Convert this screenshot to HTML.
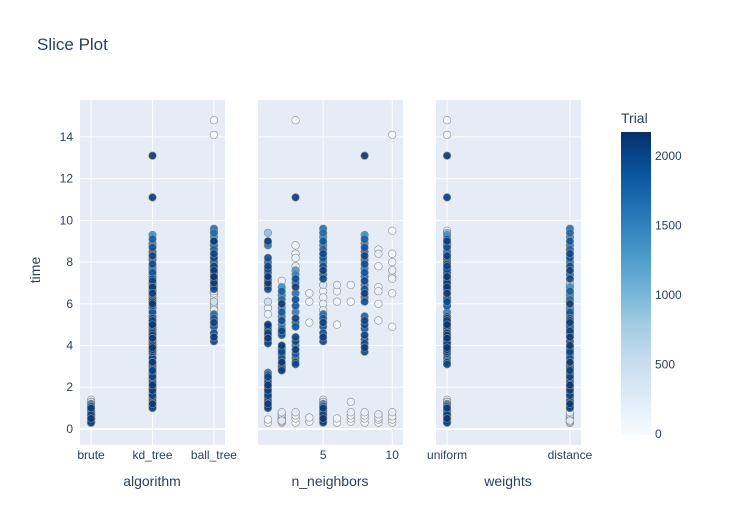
<!DOCTYPE html>
<html><head><meta charset="utf-8"><style>
body{margin:0;background:#fff;}
svg text{font-family:"Liberation Sans",Arial,sans-serif;fill:#2a3f5f;}
</style></head><body>
<svg id="chart" width="733" height="525" xmlns="http://www.w3.org/2000/svg">
<text x="37" y="50" font-size="17">Slice Plot</text>
<text transform="translate(40,270) rotate(-90)" text-anchor="middle" font-size="14">time</text>
<g id="panels"></g>
<text x="152" y="486" text-anchor="middle" font-size="14">algorithm</text>
<text x="330" y="486" text-anchor="middle" font-size="14">n_neighbors</text>
<text x="508" y="486" text-anchor="middle" font-size="14">weights</text>
<defs><linearGradient id="blues" x1="0" y1="1" x2="0" y2="0">
<stop offset="0" stop-color="rgb(247,251,255)"/><stop offset="0.125" stop-color="rgb(222,235,247)"/><stop offset="0.25" stop-color="rgb(198,219,239)"/><stop offset="0.375" stop-color="rgb(158,202,225)"/><stop offset="0.5" stop-color="rgb(107,174,214)"/><stop offset="0.625" stop-color="rgb(66,146,198)"/><stop offset="0.75" stop-color="rgb(33,113,181)"/><stop offset="0.875" stop-color="rgb(8,81,156)"/><stop offset="1" stop-color="rgb(8,48,107)"/>
</linearGradient></defs>
<text x="621" y="123" font-size="14">Trial</text>
<rect x="621" y="132" width="30" height="303" fill="url(#blues)"/>
<g id="cbticks"></g>
</svg>
<script>
// ---- data ----
const cbTicks = [0, 500, 1000, 1500, 2000];
const yTicks = [0, 2, 4, 6, 8, 10, 12, 14];
const algCategories = ["brute", "kd_tree", "ball_tree"];
const weightCategories = ["uniform", "distance"];
const nTicks = [5, 10];
const gA = {alg:"kd_tree", n:1, w:"distance"};
const gATimes = [1.0,1.1,1.2,1.35,1.5,1.6,1.7,1.85,2.0,2.1,2.25,2.4,2.5,2.6,2.7];
const gATrials = [2050,1980,2100,1900,1850,2000,1950,2080,1700,2120,1920,1880,2010,1800,1600];
const gB = {alg:"kd_tree", n:1, w:"uniform"};
const gBTimes = [4.1,4.2,4.35,4.5,4.6,4.75,4.9,5.0];
const gBTrials = [2000,1950,2100,1900,2050,1850,1980,2120];
const gC = {alg:"ball_tree", n:1, w:"uniform"};
const gCTimes = [6.7,6.85,7.0,7.15,7.3,7.5,7.65,7.8,8.0,8.2,8.8,8.95,9.0,9.4];
const gCTrials = [2000,1950,2080,1900,2120,1850,1980,2020,1700,1930,1600,1550,2060,900];
const gD = {alg:"ball_tree", n:1, w:"distance"};
const gDTimes = [5.5,5.8,6.1];
const gDTrials = [150,120,500];
const gD2 = {alg:"brute", n:1, w:"distance"};
const gD2Times = [0.3,0.45];
const gD2Trials = [60,90];
const gE = {alg:"kd_tree", n:2, w:"distance"};
const gETimes = [2.8,2.9,3.0,3.1,3.2,3.4,3.6,3.7,3.8,3.9,4.0,4.5,4.6,4.7,4.8,5.0,5.2,5.4,5.6,5.8,6.0,6.2,6.4,6.6,6.8,7.1];
const gETrials = [2050,1980,1900,1700,2100,1950,1850,2000,1650,1920,2080,1880,1600,2020,1750,1500,1960,1550,1850,1450,2100,1700,1500,1800,1400,200];
const gF = {alg:"kd_tree", n:3, w:"uniform"};
const gFTimes = [3.1,3.2,3.4,3.6,3.8,4.0,4.2,4.4,4.9,5.1,5.3,5.6,5.9,6.2,6.5,6.8,7.0,7.2,7.4,7.6,7.8,8.2,8.4,8.8,11.1];
const gFTrials = [2000,1950,1700,1850,2100,1600,1980,2050,1900,1750,2020,1550,1880,1950,1650,2080,1800,1920,1500,1300,300,150,100,80,2100];
const gG = {alg:"ball_tree", n:5, w:"distance"};
const gGTimes = [4.2,4.4,4.6,4.9,5.1,5.3,5.5,7.2,7.4,7.6,7.8,8.0,8.2,8.4,8.6,8.8,9.0,9.2,9.4,9.6,5.7,6.0,6.3,6.6,6.9];
const gGTrials = [2000,2100,1950,1900,2050,1850,1700,2000,1800,2080,1950,1650,1900,2020,1750,1600,1880,1500,1700,1650,250,180,120,90,400];
const gH = {alg:"brute", n:5, w:"uniform"};
const gHTimes = [0.3,0.4,0.5,0.6,0.7,0.8,0.9,1.0,1.1,1.2,1.3,1.4];
const gHTrials = [2050,1980,2100,1900,2000,1850,1950,2080,1700,1500,400,200];
const gI = {alg:"kd_tree", n:8, w:"uniform"};
const gITimes = [3.7,3.9,4.1,4.3,4.5,4.8,5.0,5.2,5.4,6.1,6.3,6.5,6.7,6.9,7.1,7.3,7.5,7.7,7.9,8.1,8.3,8.5,8.7,8.9,9.1,9.3,13.1];
const gITrials = [2000,2100,1950,1900,2050,1850,1980,2020,1800,1950,1700,2080,1900,1600,2000,1750,1880,1550,1950,1650,2050,1700,1900,1500,1800,1400,2150];
const gJ = {alg:"ball_tree", n:9, w:"distance"};
const gJTimes = [5.2,6.0,6.6,6.8,7.8,8.4,8.6];
const gJTrials = [100,60,140,90,40,200,120];
const gK = {alg:"ball_tree", n:10, w:"uniform"};
const gKTimes = [4.9,6.5,7.2,7.3,7.6,8.0,8.4,9.5,14.1];
const gKTrials = [30,70,110,50,150,90,20,10,5];
const gL = {alg:"ball_tree", n:3, w:"uniform"};
const gLTimes = [14.8];
const gLTrials = [3];
const gM = {alg:"ball_tree", n:4, w:"distance"};
const gMTimes = [5.1,6.1,6.5];
const gMTrials = [45,80,130];
const gN = {alg:"ball_tree", n:6, w:"distance"};
const gNTimes = [5.0,6.1,6.6,6.9];
const gNTrials = [25,65,95,160];
const gO = {alg:"ball_tree", n:7, w:"distance"};
const gOTimes = [6.1,6.9];
const gOTrials = [35,75];
const gP = {alg:"brute", n:2, w:"distance"};
const gPTimes = [0.3,0.45,0.6,0.8,0.35,0.5,0.7,0.4];
const gPTrials = [20,140,60,220,100,40,180,300];
const gQ = {alg:"brute", n:3, w:"uniform"};
const gQTimes = [0.3,0.5,0.65,0.8];
const gQTrials = [15,85,125,260];
const gR = {alg:"brute", n:4, w:"distance"};
const gRTimes = [0.35,0.55];
const gRTrials = [55,105];
const gS = {alg:"brute", n:6, w:"distance"};
const gSTimes = [0.3,0.5];
const gSTrials = [12,88];
const gT = {alg:"brute", n:7, w:"uniform"};
const gTTimes = [0.35,0.5,0.65,0.8,1.3];
const gTTrials = [33,77,111,155,210];
const gU = {alg:"brute", n:8, w:"distance"};
const gUTimes = [0.3,0.5,0.65,0.8];
const gUTrials = [18,66,99,170];
const gV = {alg:"brute", n:9, w:"uniform"};
const gVTimes = [0.3,0.45,0.55,0.7];
const gVTrials = [28,58,134,240];
const gW = {alg:"brute", n:10, w:"distance"};
const gWTimes = [0.3,0.45,0.6,0.8];
const gWTrials = [11,44,122,190];

const groups = [[gA,gATimes,gATrials],[gB,gBTimes,gBTrials],[gC,gCTimes,gCTrials],[gD,gDTimes,gDTrials],[gD2,gD2Times,gD2Trials],[gE,gETimes,gETrials],[gF,gFTimes,gFTrials],[gG,gGTimes,gGTrials],[gH,gHTimes,gHTrials],[gI,gITimes,gITrials],[gJ,gJTimes,gJTrials],[gK,gKTimes,gKTrials],[gL,gLTimes,gLTrials],[gM,gMTimes,gMTrials],[gN,gNTimes,gNTrials],[gO,gOTimes,gOTrials],[gP,gPTimes,gPTrials],[gQ,gQTimes,gQTrials],[gR,gRTimes,gRTrials],[gS,gSTimes,gSTrials],[gT,gTTimes,gTTrials],[gU,gUTimes,gUTrials],[gV,gVTimes,gVTrials],[gW,gWTimes,gWTrials]];

// ---- scales ----
const NS = "http://www.w3.org/2000/svg";
const plotTop = 100, plotBottom = 445;
const yMin = -0.77, yMax = 15.77;
const yS = v => plotBottom - (v - yMin) / (yMax - yMin) * (plotBottom - plotTop);
const cMax = 2172;
const panels = [
  {name:"algorithm", x0:80, x1:225, min:-0.18, max:2.18, key:"alg", cats:algCategories},
  {name:"n-neighbors", x0:258, x1:403, min:0.28, max:10.78, key:"n", ticks:nTicks},
  {name:"weights", x0:436, x1:581, min:-0.09, max:1.09, key:"w", cats:weightCategories}
];
function xS(p, v){ return p.x0 + (v - p.min)/(p.max - p.min)*(p.x1 - p.x0); }
const stops = [[247,251,255],[222,235,247],[198,219,239],[158,202,225],[107,174,214],[66,146,198],[33,113,181],[8,81,156],[8,48,107]];
function color(t){
  let f = Math.max(0, Math.min(1, t/cMax))*8, i = Math.min(7, Math.floor(f)), r = f - i;
  const a = stops[i], b = stops[i+1];
  return `rgb(${[0,1,2].map(k=>Math.round(a[k]+(b[k]-a[k])*r)).join(",")})`;
}
function mk(tag, attrs, parent){ const e = document.createElementNS(NS, tag); for (const k in attrs) e.setAttribute(k, attrs[k]); parent.appendChild(e); return e; }

const pts = [];
groups.forEach(([g, ts, tr]) => ts.forEach((t, i) => pts.push({alg:g.alg, n:g.n, w:g.w, time:t, trial:tr[i]})));
pts.sort((a, b) => a.trial - b.trial);

const root = document.getElementById("panels");
panels.forEach(p => {
  const g = mk("g", {}, root);
  
  
  const bg = mk("rect", {x:p.x0, y:plotTop, width:p.x1-p.x0, height:plotBottom-plotTop, fill:"#e5ecf6"}, g);
  
  
  yTicks.forEach(v => {
    const l = mk("line", {x1:p.x0, x2:p.x1, y1:yS(v), y2:yS(v), stroke:"#fff", "stroke-width": v===0?2:1}, g);
    
    
  });
  const xs = p.cats ? p.cats.map((c, i) => [i, c]) : p.ticks.map(v => [v, String(v)]);
  xs.forEach(([v, lab]) => {
    const x = xS(p, v);
    const l = mk("line", {x1:x, x2:x, y1:plotTop, y2:plotBottom, stroke:"#fff", "stroke-width":1}, g);
    
    
    const t = mk("text", {x:x, y:459, "text-anchor":"middle", "font-size":12}, g);
    t.textContent = lab;
    
    
  });
  pts.forEach(d => {
    const v = p.cats ? p.cats.indexOf(d[p.key]) : d[p.key];
    const c = mk("circle", {cx:xS(p, v), cy:yS(d.time), r:3.8, fill:color(d.trial), stroke:"#8c8c8c", "stroke-width":0.6, "fill-opacity":0.9}, g);
    
    
  });
});
yTicks.forEach(v => {
  const t = mk("text", {x:73, y:yS(v)+4, "text-anchor":"end", "font-size":12}, root);
  t.textContent = v;
  
  
});
const cb = document.getElementById("cbticks");
cbTicks.forEach(v => {
  const y = 434 - v/cMax*302;
  const t = mk("text", {x:655, y:y+4, "font-size":12}, cb);
  t.textContent = v;
  
  
});
</script>
</body></html>
